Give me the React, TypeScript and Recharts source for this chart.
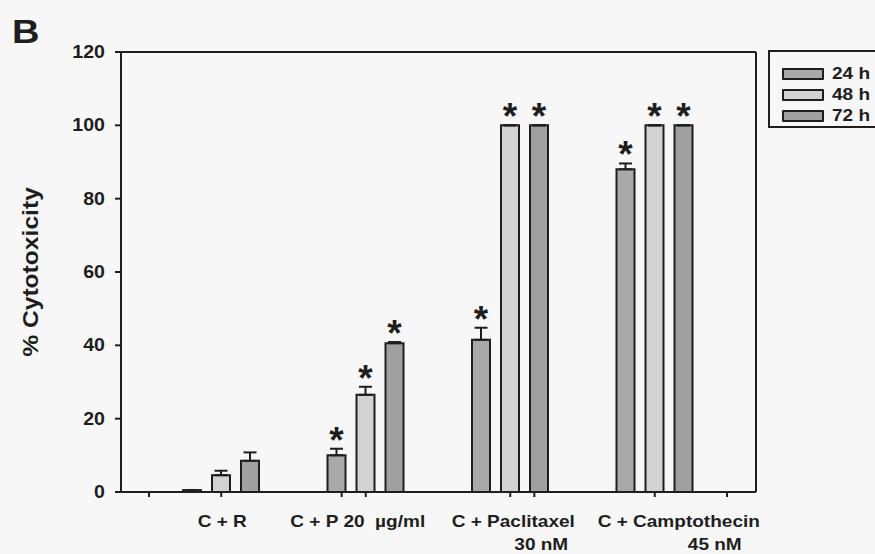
import React from 'react';
import { BarChart, Bar, XAxis, YAxis, ErrorBar, LabelList, Legend } from 'recharts';

// Treatment groups (x categories) and their second label line
const groups = ['C + R', 'C + P 20  µg/ml', 'C + Paclitaxel', 'C + Camptothecin'];
const groupSubLabels = ['', '', '30 nM', '45 nM'];

// Exposure times
const seriesNames = ['24 h', '48 h', '72 h'];

// Mean % cytotoxicity per group
const mean24 = [0.5, 10, 41.5, 88];
const mean48 = [4.6, 26.5, 100, 100];
const mean72 = [8.5, 40.6, 100, 100];

// Standard error (upper whisker only)
const sem24 = [0, 1.8, 3.3, 1.6];
const sem48 = [1.2, 2.2, 0, 0];
const sem72 = [2.3, 0.3, 0, 0];

// Significance markers
const sig24 = [false, true, true, true];
const sig48 = [false, true, true, true];
const sig72 = [false, true, true, true];

const yTicks = [0, 20, 40, 60, 80, 100, 120];
const boundaryTicks = [0, 1, 2, 3, 4];

const rows = groups.map((g, i) => ({
  group: g,
  sub: groupSubLabels[i],
  v24: mean24[i],
  v48: mean48[i],
  v72: mean72[i],
  e24: [0, sem24[i]],
  e48: [0, sem48[i]],
  e72: [0, sem72[i]],
}));

const FONT = '"Liberation Sans", Arial, Helvetica, sans-serif';
const INK = '#1e1e1e';
const COLORS = ['#a9a9a9', '#d2d2d2', '#a0a0a0'];
const STRETCH = 1.12;

// horizontal nudges of the category label lines, relative to the tick
const labelShift: Record<string, [number, number]> = {
  'C + R': [1, 0],
  'C + P 20  µg/ml': [-8, 0],
  'C + Paclitaxel': [3, 31],
  'C + Camptothecin': [24, 60],
};

const Wide = ({ x, y, anchor = 'middle', size, children }: any) => (
  <text
    transform={`translate(${x},${y}) scale(${STRETCH},1)`}
    x={0}
    y={0}
    textAnchor={anchor}
    fontFamily={FONT}
    fontWeight="bold"
    fontSize={size}
    fill={INK}
    style={{ whiteSpace: 'pre' }}
  >
    {children}
  </text>
);

const YTick = (props: any) => {
  const { x, y, payload } = props;
  return (
    <Wide x={x} y={y + 6} anchor="end" size={17.5}>
      {payload.value}
    </Wide>
  );
};

const XTick = (props: any) => {
  const { x, y, payload, index } = props;
  const name = payload.value as string;
  const shift = labelShift[name] || [0, 0];
  const sub = groupSubLabels[index];
  return (
    <g>
      <Wide x={x + shift[0]} y={y + 28} size={17}>
        {name}
      </Wide>
      {sub ? (
        <Wide x={x + shift[1]} y={y + 51} size={17}>
          {sub}
        </Wide>
      ) : null}
    </g>
  );
};

const EmptyTick = () => <g />;

// asterisk above the error whisker of significant bars
const makeStar = (semArr: number[], sigArr: boolean[]) => (props: any) => {
  const { x, y, width, height, value, index } = props;
  if (!sigArr[index] || !value) return null;
  const pxPerUnit = height / value;
  const capY = y - semArr[index] * pxPerUnit;
  return (
    <text
      x={x + width / 2}
      y={capY + 4}
      textAnchor="middle"
      fontFamily={FONT}
      fontWeight="bold"
      fontSize={37}
      fill={INK}
    >
      *
    </text>
  );
};

const YLabel = (props: any) => {
  const vb = props.viewBox || {};
  const cx = vb.x + vb.width - 83;
  const cy = vb.y + vb.height / 2;
  return (
    <text
      transform={`translate(${cx},${cy}) rotate(-90) scale(${STRETCH},1)`}
      x={0}
      y={0}
      textAnchor="middle"
      fontFamily={FONT}
      fontWeight="bold"
      fontSize={22}
      fill={INK}
    >
      % Cytotoxicity
    </text>
  );
};

const LegendBox = (props: any) => {
  const payload = props.payload || [];
  return (
    <div
      style={{
        border: `2px solid ${INK}`,
        width: 140,
        height: 78,
        boxSizing: 'border-box',
        paddingTop: 11,
        paddingLeft: 12,
        background: '#f7f7f7',
      }}
    >
      {payload.map((p: any) => (
        <div key={p.value} style={{ display: 'flex', alignItems: 'center', height: 21 }}>
          <span
            style={{
              display: 'inline-block',
              width: 38,
              height: 8,
              background: p.color,
              border: `2px solid ${INK}`,
              borderRadius: 1,
            }}
          />
          <span
            style={{
              marginLeft: 8,
              fontFamily: FONT,
              fontWeight: 'bold',
              fontSize: 17,
              color: INK,
              display: 'inline-block',
              transform: `scaleX(${STRETCH})`,
              transformOrigin: 'left center',
            }}
          >
            {p.value}
          </span>
        </div>
      ))}
    </div>
  );
}

export default function App() {
  const axisStroke = { stroke: INK, strokeWidth: 2 };
  const pad = { left: 28, right: 29 };
  return (
    <div
      style={{
        position: 'absolute',
        left: 0,
        top: 0,
        width: 875,
        height: 554,
        overflow: 'hidden',
        background: '#f7f7f7',
      }}
    >
      <div
        style={{
          position: 'absolute',
          left: 12,
          top: 14,
          fontFamily: FONT,
          fontWeight: 'bold',
          fontSize: 34,
          color: INK,
          lineHeight: '34px',
          transform: `scaleX(${STRETCH})`,
          transformOrigin: 'left top',
        }}
      >
        B
      </div>
      <BarChart
        width={875}
        height={554}
        data={rows}
        margin={{ top: 51, right: 118, bottom: 0, left: 61 }}
        barSize={18}
        barGap={11}
      >
        <XAxis
          xAxisId="b_groups"
          dataKey="group"
          type="category"
          padding={pad}
          height={61}
          axisLine={false}
          tickLine={axisStroke}
          tickSize={4}
          tickMargin={2}
          tick={<XTick />}
          interval={0}
        />
        <XAxis
          xAxisId="a_bounds"
          type="number"
          domain={[0, 4]}
          ticks={boundaryTicks}
          allowDataOverflow
          padding={pad}
          height={1}
          axisLine={axisStroke}
          tickLine={axisStroke}
          tickSize={5}
          tick={EmptyTick}
        />
        <XAxis
          xAxisId="c_top"
          orientation="top"
          dataKey="group"
          height={1}
          axisLine={axisStroke}
          tickLine={false}
          tick={false}
        />
        <YAxis
          yAxisId="left"
          width={60}
          domain={[0, 120]}
          ticks={yTicks}
          interval={0}
          axisLine={axisStroke}
          tickLine={axisStroke}
          tickSize={6}
          tickMargin={10}
          tick={<YTick />}
          label={{ content: <YLabel /> }}
        />
        <YAxis
          yAxisId="right"
          orientation="right"
          width={1}
          domain={[0, 120]}
          axisLine={axisStroke}
          tickLine={false}
          tick={false}
        />
        <Legend
          layout="vertical"
          align="center"
          verticalAlign="middle"
          wrapperStyle={{ left: 768, top: 50, width: 140 }}
          content={<LegendBox />}
        />
        {(['24', '48', '72'] as const).map((k, i) => {
          const semArr = [sem24, sem48, sem72][i];
          const sigArr = [sig24, sig48, sig72][i];
          return (
            <Bar
              key={k}
              xAxisId="b_groups"
              yAxisId="left"
              dataKey={`v${k}`}
              name={seriesNames[i]}
              fill={COLORS[i]}
              stroke={INK}
              strokeWidth={2}
              isAnimationActive={false}
            >
              <ErrorBar
                dataKey={`e${k}`}
                width={6.5}
                stroke={INK}
                strokeWidth={2}
                direction="y"
              />
              <LabelList dataKey={`v${k}`} content={makeStar(semArr, sigArr)} />
            </Bar>
          );
        })}
      </BarChart>
    </div>
  );
}
